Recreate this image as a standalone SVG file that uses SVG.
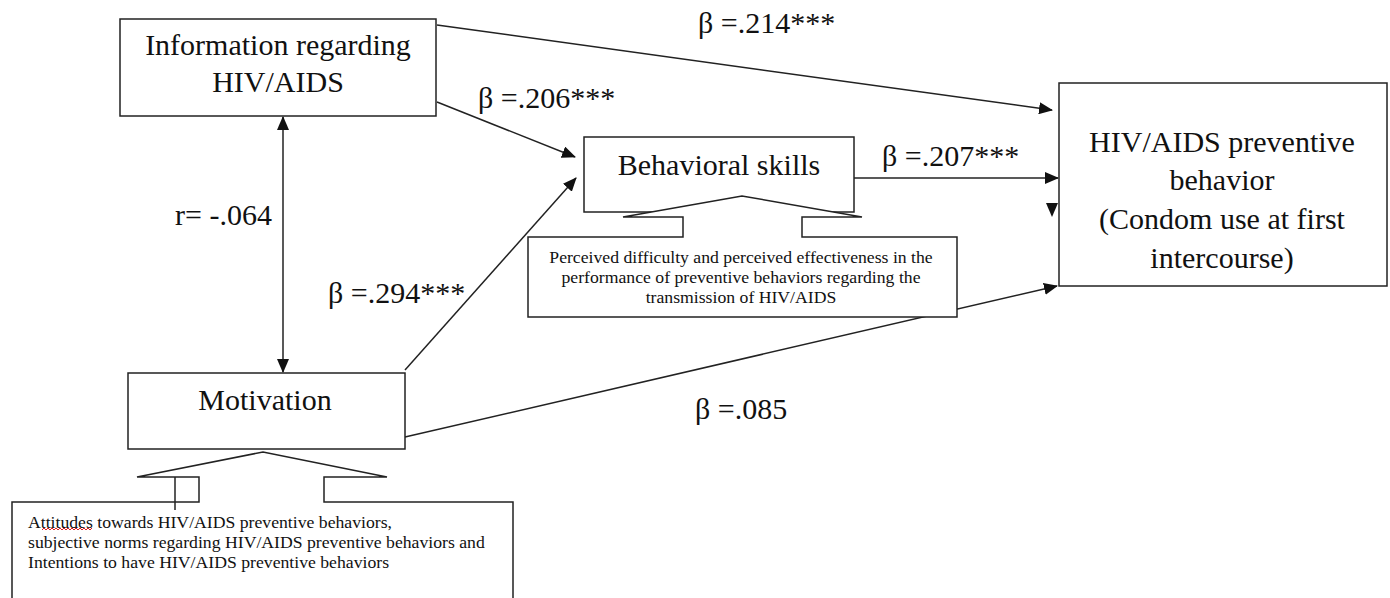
<svg xmlns="http://www.w3.org/2000/svg" width="1390" height="598" viewBox="0 0 1390 598">
<style>
text{font-family:"Liberation Serif","Times New Roman",serif;fill:#111}
.big{font-size:30px}
.small{font-size:17.7px}
.box{fill:#fff;stroke:#222;stroke-width:1.5}
.ln{fill:none;stroke:#222;stroke-width:1.5}
</style>
<defs>
<marker id="ah" viewBox="0 0 14 12" refX="13" refY="6" markerWidth="14" markerHeight="12" markerUnits="userSpaceOnUse" orient="auto">
<path d="M0,0 L14,6 L0,12 Z" fill="#111"/>
</marker>
<marker id="ahs" viewBox="0 0 14 12" refX="13" refY="6" markerWidth="14" markerHeight="12" markerUnits="userSpaceOnUse" orient="auto-start-reverse">
<path d="M0,0 L14,6 L0,12 Z" fill="#111"/>
</marker>
</defs>
<rect width="1390" height="598" fill="#fff"/>
<g id="connectors">
<line class="ln" x1="437" y1="25" x2="1052" y2="110" marker-end="url(#ah)"/>
<line class="ln" x1="437" y1="102" x2="575" y2="157" marker-end="url(#ah)"/>
<line class="ln" x1="405" y1="370" x2="576" y2="178" marker-end="url(#ah)"/>
<line class="ln" x1="854" y1="178" x2="1058" y2="178" marker-end="url(#ah)"/>
<line class="ln" x1="405" y1="437" x2="1057" y2="286" marker-end="url(#ah)"/>
<line class="ln" x1="283" y1="117" x2="283" y2="372" marker-start="url(#ahs)" marker-end="url(#ah)"/>
<polygon points="1046,203 1058,203 1052,217" fill="#111"/>
</g>
<g id="labels">
<text class="big" x="698" y="33">β =.214***</text>
<text class="big" x="478" y="108">β =.206***</text>
<text class="big" x="882" y="166">β =.207***</text>
<text class="big" x="175" y="225">r= -.064</text>
<text class="big" x="328" y="303">β =.294***</text>
<text class="big" x="695" y="419">β =.085</text>
</g>
<g id="info">
<rect class="box" x="120" y="19" width="316" height="97"/>
<text class="big" x="278" y="55" text-anchor="middle">Information regarding</text>
<text class="big" x="278" y="92" text-anchor="middle">HIV/AIDS</text>
</g>
<g id="behavioral">
<rect class="box" x="584" y="137" width="270" height="75"/>
<text class="big" x="719" y="175" text-anchor="middle">Behavioral skills</text>
</g>
<g id="behavioral-note">
<path class="box" d="M528,237 L683,237 L683,217 L623,217 L742,196 L862,217 L802,217 L802,237 L957,237 L957,317 L528,317 Z"/>
<text class="small" x="741" y="263" text-anchor="middle">Perceived difficulty and perceived effectiveness in the</text>
<text class="small" x="741" y="283" text-anchor="middle">performance of preventive behaviors regarding the</text>
<text class="small" x="741" y="303" text-anchor="middle">transmission of HIV/AIDS</text>
</g>
<g id="outcome">
<rect class="box" x="1059" y="83" width="328" height="203"/>
<text class="big" x="1222" y="152" text-anchor="middle">HIV/AIDS preventive</text>
<text class="big" x="1222" y="190" text-anchor="middle">behavior</text>
<text class="big" x="1222" y="229" text-anchor="middle">(Condom use at first</text>
<text class="big" x="1222" y="268" text-anchor="middle">intercourse)</text>
</g>
<g id="motivation">
<rect class="box" x="128" y="373" width="277" height="76"/>
<text class="big" x="265" y="410" text-anchor="middle">Motivation</text>
</g>
<g id="motivation-note">
<path class="box" d="M12,640 L12,502 L199,502 L199,477 L137,477 L263,452 L387,477 L324,477 L324,502 L513,502 L513,640"/>
<line class="ln" x1="175" y1="477" x2="175" y2="510"/>
<text class="small" x="28" y="528">Attitudes towards HIV/AIDS preventive behaviors,</text>
<text class="small" x="28" y="548">subjective norms regarding HIV/AIDS preventive behaviors and</text>
<text class="small" x="28" y="568">Intentions to have HIV/AIDS preventive behaviors</text>
<polyline fill="none" stroke="#e02020" stroke-width="1" points="42,530 44,528 46,530 48,528 50,530 52,528 54,530 56,528 58,530 60,528 62,530 64,528 66,530 68,528 70,530 72,528 74,530 76,528 78,530 80,528 82,530 84,528 86,530 88,528 90,530 92,528"/>
</g>
</svg>
